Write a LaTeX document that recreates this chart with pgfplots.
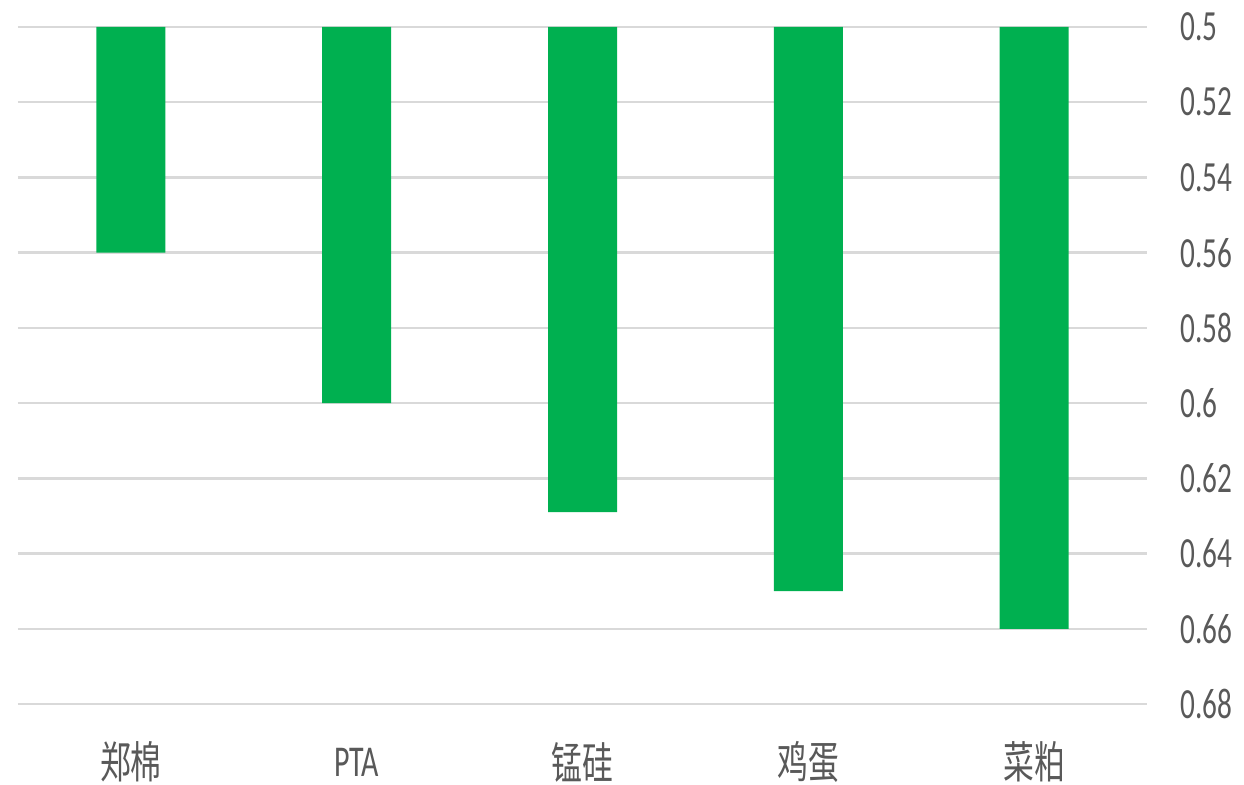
\documentclass[border=0pt]{standalone}
\usepackage{fontspec}
\setmainfont{Carlito}[FakeStretch=0.68]
\newfontfamily\cjk{Noto Sans CJK SC}[FakeStretch=0.7]
\usepackage{pgfplots}
\pgfplotsset{compat=1.18}
\definecolor{barg}{HTML}{00B050}
\definecolor{gridg}{HTML}{D9D9D9}
\definecolor{txt}{HTML}{595959}
\begin{document}
\begin{tikzpicture}
\begin{axis}[
  scale only axis,
  width=564.5pt, height=338.5pt,
  at={(0,0)}, anchor=south west,
  y dir=reverse,
  ymin=0.5, ymax=0.68,
  xmin=-0.5, xmax=4.5,
  axis line style={draw=none},
  ytick={0.5,0.52,0.54,0.56,0.58,0.6,0.62,0.64,0.66,0.68},
  yticklabel pos=right,
  ymajorgrids,
  grid style={gridg, line width=1.2pt},
  major tick length=0pt,
  xtick={0,1,2,3,4},
  xticklabels={{\cjk 郑棉},PTA,{\cjk 锰硅},{\cjk 鸡蛋},{\cjk 菜粕}},
  xticklabel style={anchor=center, yshift=-29pt, font=\fontsize{22pt}{24pt}\selectfont, text=txt},
  yticklabel style={anchor=west, inner sep=0pt, xshift=16.5pt, font=\fontsize{21.5pt}{24pt}\selectfont, text=txt,
    /pgf/number format/fixed, /pgf/number format/precision=2},
  /pgf/number format/assume math mode=true,
  ybar, bar width=34.5pt,
]
\addplot[fill=barg, draw=none, bar shift=0pt] coordinates {(0,0.56) (1,0.60) (2,0.629) (3,0.65) (4,0.66)};
\end{axis}
\pgfresetboundingbox
\path[use as bounding box] (-9pt,-40.5pt) rectangle (613pt,352pt);
\end{tikzpicture}
\end{document}
